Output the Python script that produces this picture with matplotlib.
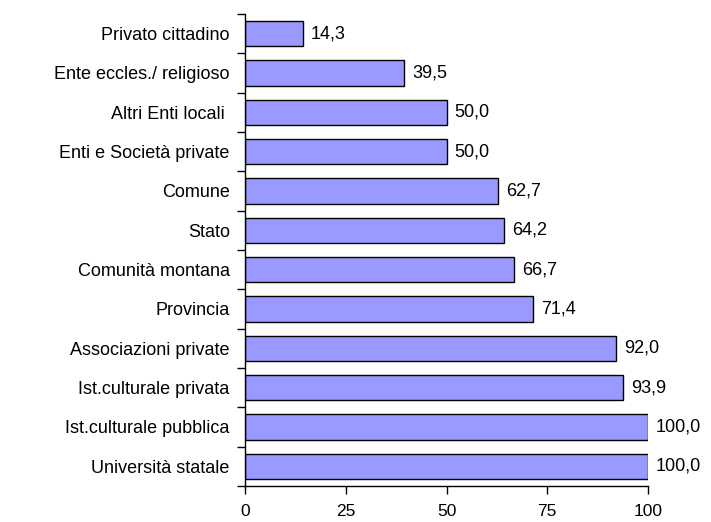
import matplotlib
matplotlib.use("Agg")
import matplotlib.pyplot as plt
from matplotlib.ticker import FixedLocator

plt.rcParams['font.family'] = ['Liberation Sans', 'DejaVu Sans']

# categories top to bottom
categories = ["Privato cittadino", "Ente eccles./ religioso", "Altri Enti locali ",
              "Enti e Società private", "Comune", "Stato", "Comunità montana",
              "Provincia", "Associazioni private", "Ist.culturale privata",
              "Ist.culturale pubblica", "Università statale"]
values = [14.3, 39.5, 50.0, 50.0, 62.7, 64.2, 66.7, 71.4, 92.0, 93.9, 100.0, 100.0]
x_ticks = [0, 25, 50, 75, 100]

fs = 13

fig = plt.figure(figsize=(7.11, 5.22), dpi=100)
ax = fig.add_axes([0.3446, 0.069, 0.5668, 0.9042])

n = len(categories)
ypos = list(range(n))[::-1]
ax.barh(ypos, values, height=0.65, color='#9999FF', edgecolor='black', linewidth=1.0)

for y, v in zip(ypos, values):
    ax.text(v + 2.0, y, f"{v:.1f}".replace('.', ','), va='center', ha='left', fontsize=fs)

ax.set_xlim(0, 100)
ax.set_ylim(-0.5, n - 0.5)
ax.set_yticks(ypos)
ax.set_yticklabels(categories, fontsize=fs)
ax.yaxis.set_minor_locator(FixedLocator([i - 0.5 for i in range(n + 1)]))
ax.tick_params(axis='y', which='major', length=0, pad=11)
ax.tick_params(axis='y', which='minor', length=6, width=1, direction='out')
ax.set_xticks(x_ticks)
ax.set_xticklabels([str(t) for t in x_ticks], fontsize=12.5)
ax.tick_params(axis='x', length=6, width=1, direction='out', pad=7)

ax.spines['top'].set_visible(False)
ax.spines['right'].set_visible(False)
ax.spines['left'].set_linewidth(1)
ax.spines['bottom'].set_linewidth(1)

fig.savefig("out.png", dpi=100, facecolor='white')
